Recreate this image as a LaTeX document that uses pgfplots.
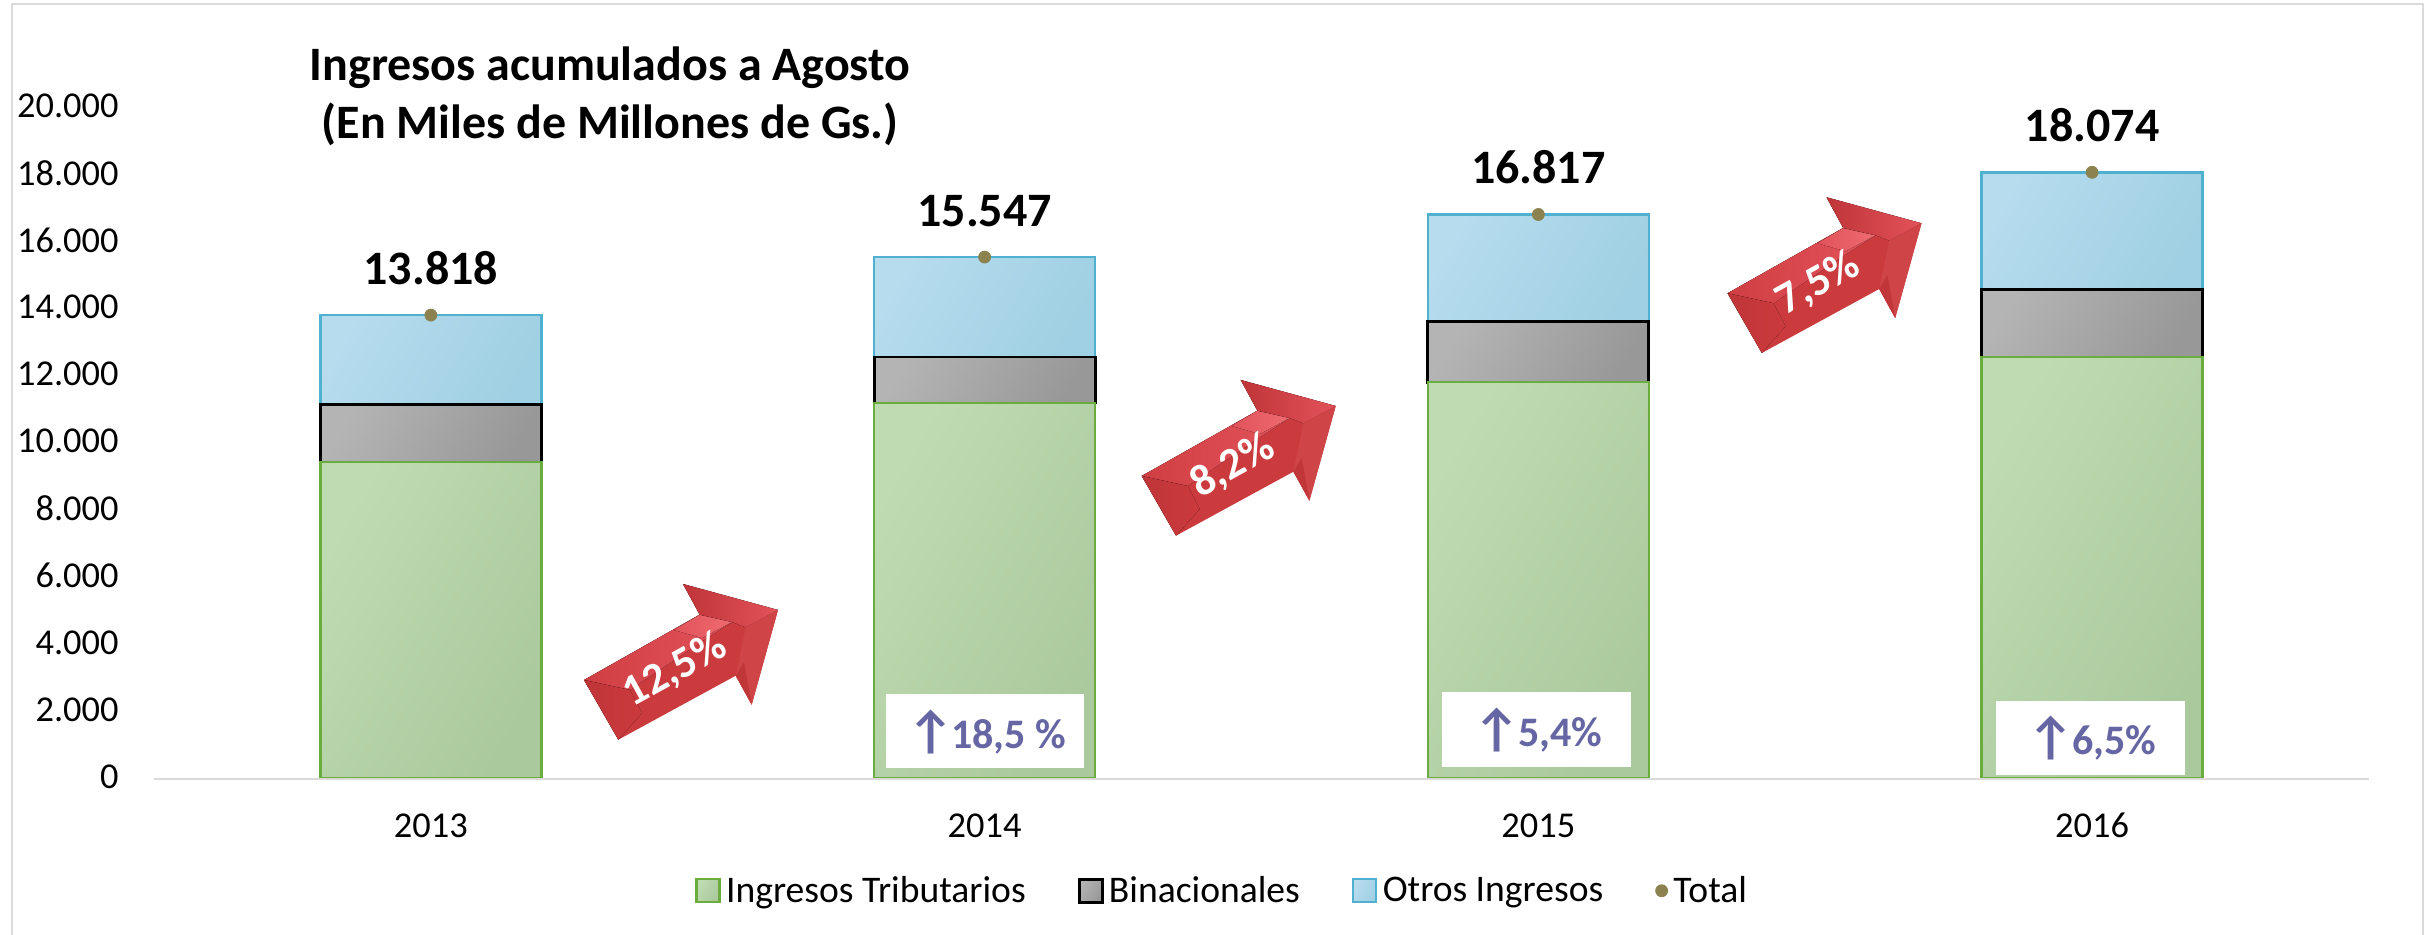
\documentclass[border=0pt]{standalone}
\usepackage{fontspec}
\setmainfont{Carlito}
\usepackage{pgfplots}
\pgfplotsset{compat=1.18}
\definecolor{greenln}{HTML}{6AAC3E}
\definecolor{greenA}{HTML}{BFDBB2}
\definecolor{greenB}{HTML}{AAC99C}
\definecolor{greyA}{HTML}{B4B4B4}
\definecolor{greyB}{HTML}{989898}
\definecolor{blueln}{HTML}{4FB0CF}
\definecolor{blueA}{HTML}{B6DCEE}
\definecolor{blueB}{HTML}{A0D0E3}
\definecolor{dotc}{HTML}{8C8250}
\definecolor{framec}{HTML}{DADADA}
\definecolor{pctc}{HTML}{6566A3}
\definecolor{redbase}{HTML}{CB3A3D}
\definecolor{redlight}{HTML}{EE6B70}
\definecolor{redmid}{HTML}{E2525A}
\definecolor{reddark}{HTML}{BF3538}

\pgfplotsset{
  patchleg/.style={legend image code/.code={\draw[##1] (0pt,-5.75pt) rectangle (11.5pt,5.75pt);}},
  dotleg/.style={legend image code/.code={\fill[dotc] (4pt,0pt) circle (3pt);}},
  comun/.style={
    at={(77pt,78.15pt)}, anchor=south west,
    scale only axis, width=1107.5pt, height=335.5pt,
    xmin=-0.5, xmax=3.5, ymin=0, ymax=20000, clip=false},
  trib/.style={draw=greenln, line width=1.2pt, left color=greenA, right color=greenB, shading angle=60},
  bina/.style={draw=black, line width=1.4pt, left color=greyA, right color=greyB, shading angle=60},
  otros/.style={draw=blueln, line width=1.2pt, left color=blueA, right color=blueB, shading angle=60},
}

\pgfplotstableread{
x trib bina otros total
0 9440 1720 2658 13818
1 11200 1370 2977 15547
2 11820 1810 3187 16817
3 12570 2020 3484 18074
}\datos

% flecha roja, origen en la esquina superior de la cola
\newcommand{\flecha}[3]{%
  \begin{scope}[shift={(#1,#2)}]
    \fill[redbase] (0,0) -- (115.7,-65.3) -- (99,-96) -- (194,-70) -- (167.7,24.7)
      -- (151.7,-4.3) -- (34.3,59.7) -- cycle;
    \fill[left color=redbase!80!redmid, right color=redmid] (0,0) -- (115.7,-65.3) -- (148,-58) -- (120,-40) -- (46,10) -- cycle;
    \fill[left color=redmid, right color=redlight] (90,-50) -- (115.7,-65.3) -- (148,-58) -- (118,-42) -- cycle;
    \fill[left color=reddark, right color=redbase] (0,0) -- (46,10) -- (58,33) -- (34.3,59.7) -- cycle;
    \fill[left color=reddark, right color=redmid] (99,-96) -- (194,-70) -- (161.7,-52.7) -- (148,-58) -- (115.7,-65.3) -- cycle;
    \fill[redbase!95!white] (194,-70) -- (167.7,24.7) -- (151.7,-4.3) -- (161.7,-52.7) -- cycle;
    \fill[reddark!85!redbase] (151.7,-4.3) -- (167.7,24.7) -- (160,-18) -- cycle;
    \node[rotate=29, text=white, font=\fontsize{22}{26}\selectfont\bfseries, inner sep=0pt] at (91,-10) {#3};
  \end{scope}}

% recuadro blanco con la variacion
\newcommand{\caja}[6]{%
  \fill[white] (#1,#3) rectangle (#2,#4);
  \node[text=pctc, font=\fontsize{21}{25}\selectfont\bfseries, inner sep=0pt] at (#5) {{\fontsize{26}{26}\selectfont\char"2191}\kern-1.5pt #6};}

\begin{document}
\begin{tikzpicture}
\path[use as bounding box] (0,0) rectangle (1217pt,467.5pt);
\begin{scope}[x=0.5pt,y=-0.5pt,shift={(0pt,467.5pt)}]
\fill[white] (0,0) rectangle (2434,935);
\draw[framec, line width=1pt] (12,935) -- (12,4) -- (2423,4) -- (2423,935);
\end{scope}
% un eje por barra: el sombreado de ybar cubre todo el path del plot
\foreach \i in {0,1,2,3}{
\begin{axis}[comun, hide axis, ybar stacked, bar width=110.5pt, restrict x to domain=\i:\i]
\addplot[trib] table[x=x,y=trib] {\datos};
\addplot[bina] table[x=x,y=bina] {\datos};
\addplot[otros] table[x=x,y=otros] {\datos};
\end{axis}
}
\begin{axis}[
  comun,
  xtick={0,1,2,3}, xticklabels={2013,2014,2015,2016},
  ytick={0,2000,...,20000},
  scaled y ticks=false,
  axis x line*=bottom, axis y line*=left,
  y axis line style={draw=none},
  x axis line style={draw=framec, line width=1pt, -},
  major tick length=0pt,
  tick label style={font=\fontsize{18.2}{22}\selectfont, /pgf/number format/assume math mode=true},
  /pgf/number format/1000 sep={.},
  yticklabel style={anchor=east, inner sep=0pt, xshift=-17.5pt, yshift=1pt},
  xticklabel style={anchor=center, inner sep=0pt, yshift=-23.5pt},
  legend columns=4,
  legend cell align=left,
  legend style={at={(rel axis cs:0.2442,-0.167)}, anchor=west, draw=none, fill=none,
    inner sep=0pt, font=\fontsize{18.8}{22}\selectfont,
    /tikz/every odd column/.append style={column sep=0.7pt},
    /tikz/every even column/.append style={column sep=24pt}},
]
\addlegendimage{trib, patchleg}
\addlegendentry{Ingresos Tributarios}
\addlegendimage{bina, patchleg}
\addlegendentry{Binacionales}
\addlegendimage{otros, patchleg}
\addlegendentry{Otros Ingresos}
\addlegendimage{dotleg}
\addlegendentry{Total}
\addplot[only marks, mark=*, mark size=3pt,
  mark options={draw=dotc, fill=dotc},
  nodes near coords,
  every node near coord/.style={font=\fontsize{24}{28}\selectfont\bfseries, text=black,
    inner sep=0pt, anchor=south, yshift=15pt, /pgf/number format/assume math mode=true}]
  table[x=x,y=total] {\datos};
\end{axis}
\begin{scope}[x=0.5pt,y=-0.5pt,shift={(0pt,467.5pt)}]
\node[align=center, font=\fontsize{24}{29}\selectfont\bfseries, inner sep=0pt] at (610,96)
  {Ingresos acumulados a Agosto\\(En Miles de Millones de Gs.)};
\flecha{584}{680}{12,5\%}
\flecha{1141.7}{476}{8,2\%}
\flecha{1727.5}{293.3}{7,5\%}
\caja{885.7}{1084}{694}{768}{986.5,731.7}{18,5 \%}
\caja{1442}{1631}{692}{766.7}{1538,730}{5,4\%}
\caja{1995.7}{2185}{700.7}{775.3}{2092,738}{6,5\%}
\end{scope}
\end{tikzpicture}
\end{document}
